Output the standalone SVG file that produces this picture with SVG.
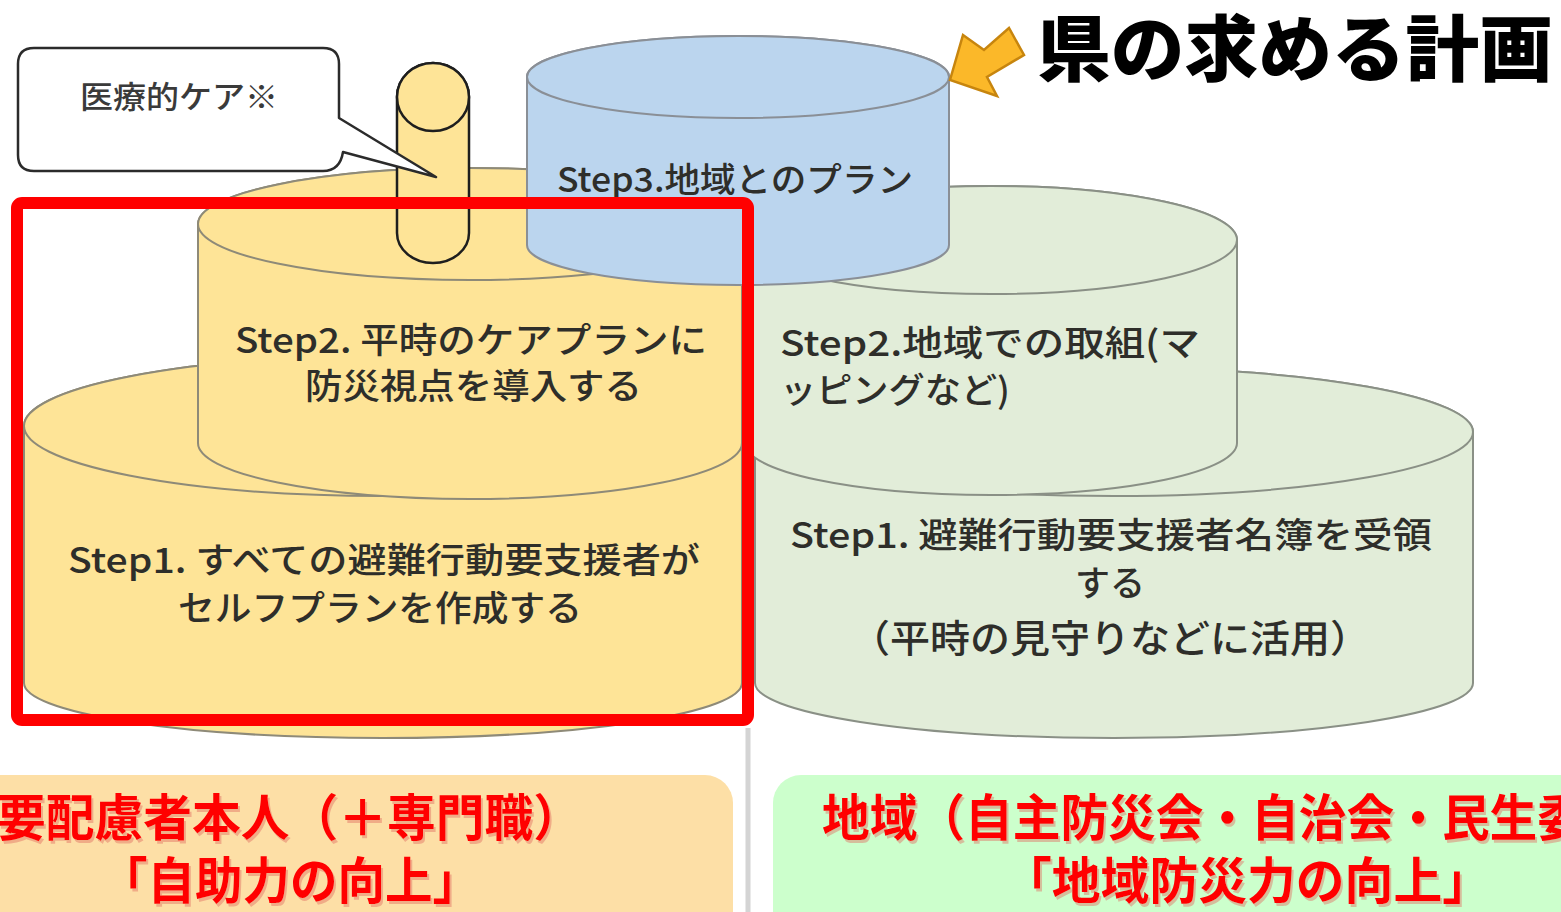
<svg xmlns="http://www.w3.org/2000/svg" width="1561" height="912" viewBox="0 0 1561 912">
<defs>
<style>
.cyl-y{fill:#FEE497;stroke:#8e8a78;stroke-width:2}
.cyl-g{fill:#E2EDD9;stroke:#8a9086;stroke-width:2}
.cyl-b{fill:#BBD5EE;stroke:#8a8f96;stroke-width:2}
.tube{fill:#FEE497;stroke:#1e1e1e;stroke-width:2.5}
.lbl{font-family:"Noto Sans CJK JP","Noto Sans",sans-serif;fill:#2e2e2a;font-size:35px;font-weight:500}
.big{font-family:"Noto Sans CJK JP","Noto Sans",sans-serif;fill:#FF0000;font-size:50px;font-weight:700}
</style>
<filter id="sh" x="-5%" y="-20%" width="110%" height="140%">
<feDropShadow dx="2" dy="3" stdDeviation="0.5" flood-color="#e07060" flood-opacity="0.45"/>
</filter>
</defs>
<rect width="1561" height="912" fill="#ffffff"/>

<g id="yellow-step1">
<path class="cyl-y" d="M24,426 L24,683 A359,55 0 0 0 742,683 L742,426 A359,70 0 0 0 24,426 Z"/>
<ellipse class="cyl-y" cx="383" cy="426" rx="359" ry="70"/>
<text class="lbl" x="68" y="573" textLength="632" lengthAdjust="spacingAndGlyphs">Step1. すべての避難行動要支援者が</text>
<text class="lbl" x="178" y="621" textLength="404" lengthAdjust="spacingAndGlyphs">セルフプランを作成する</text>
</g>

<g id="green-step1">
<path class="cyl-g" d="M755,432 L755,683 A359,55 0 0 0 1473,683 L1473,432 A359,64 0 0 0 755,432 Z"/>
<ellipse class="cyl-g" cx="1114" cy="432" rx="359" ry="64"/>
</g>

<g id="yellow-step2">
<path class="cyl-y" d="M198,224 L198,443 A272,56 0 0 0 742,443 L742,224 A272,56 0 0 0 198,224 Z"/>
<ellipse class="cyl-y" cx="470" cy="224" rx="272" ry="56"/>
<text class="lbl" x="235" y="353" textLength="472" lengthAdjust="spacingAndGlyphs">Step2. 平時のケアプランに</text>
<text class="lbl" x="305" y="399" textLength="337" lengthAdjust="spacingAndGlyphs">防災視点を導入する</text>
</g>

<g id="green-step2">
<path class="cyl-g" d="M745,240 L745,443 A246,52 0 0 0 1237,443 L1237,240 A246,54 0 0 0 745,240 Z"/>
<ellipse class="cyl-g" cx="991" cy="240" rx="246" ry="54"/>
<text class="lbl" x="780" y="356" textLength="420" lengthAdjust="spacingAndGlyphs">Step2.地域での取組(マ</text>
<text class="lbl" x="780" y="403" textLength="230" lengthAdjust="spacingAndGlyphs">ッピングなど)</text>
</g>

<g id="green-step1-text">
<text class="lbl" x="790" y="548" textLength="642" lengthAdjust="spacingAndGlyphs">Step1. 避難行動要支援者名簿を受領</text>
<text class="lbl" x="1110" y="596" text-anchor="middle">する</text>
<text class="lbl" x="850" y="652" textLength="520" lengthAdjust="spacingAndGlyphs" style="font-size:38px">（平時の見守りなどに活用）</text>
</g>

<g id="blue-step3">
<path class="cyl-b" d="M527,77 L527,245 A211,40 0 0 0 949,245 L949,77 A211,41 0 0 0 527,77 Z"/>
<ellipse class="cyl-b" cx="738" cy="77" rx="211" ry="41"/>
<text class="lbl" x="557" y="192" textLength="356" lengthAdjust="spacingAndGlyphs" style="font-size:34px">Step3.地域とのプラン</text>
</g>

<g id="tube">
<path class="tube" d="M397,97 L397,233 A36,30 0 0 0 469,233 L469,97 A36,34 0 0 0 397,97 Z"/>
<ellipse class="tube" cx="433" cy="97" rx="36" ry="34"/>
</g>

<g id="callout">
<path d="M34,48 H323 Q339,48 339,64 V118 L436,177 L343,152 Q340,171 323,171 H34 Q18,171 18,155 V64 Q18,48 34,48 Z" fill="#ffffff" stroke="#2b2b2b" stroke-width="2.5" stroke-linejoin="round"/>
<text class="lbl" x="80" y="108" textLength="198" lengthAdjust="spacingAndGlyphs" style="font-size:31px;fill:#3a3a3a">医療的ケア※</text>
</g>

<g id="title">
<polygon points="950,80 963,35 984,50 1009,28 1024,55 987,77 997,96" fill="#FBB829" stroke="#C7850E" stroke-width="2.5" stroke-linejoin="miter"/>
<text x="1037" y="75" textLength="516" lengthAdjust="spacingAndGlyphs" style="font-family:'Noto Sans CJK JP',sans-serif;font-size:72px;font-weight:900;fill:#000000">県の求める計画</text>
</g>

<g id="connectors">
<rect x="17" y="203" width="731" height="517" rx="5" fill="none" stroke="#FF0000" stroke-width="12"/>
<line x1="748" y1="728" x2="748" y2="912" stroke="#d4d4d4" stroke-width="5"/>
</g>

<g id="label-left">
<rect x="-40" y="775" width="773" height="170" rx="28" fill="#FDDFA6"/>
<text class="big" x="-3" y="836" textLength="585" lengthAdjust="spacingAndGlyphs" filter="url(#sh)">要配慮者本人（＋専門職）</text>
<text class="big" x="100" y="899" textLength="380" lengthAdjust="spacingAndGlyphs" filter="url(#sh)">「自助力の向上」</text>
</g>

<g id="label-right">
<rect x="773" y="775" width="830" height="170" rx="28" fill="#CCFFCC"/>
<text class="big" x="822" y="836" textLength="763" lengthAdjust="spacingAndGlyphs" filter="url(#sh)">地域（自主防災会・自治会・民生委</text>
<text class="big" x="1003" y="899" textLength="488" lengthAdjust="spacingAndGlyphs" filter="url(#sh)">「地域防災力の向上」</text>
</g>
</svg>
